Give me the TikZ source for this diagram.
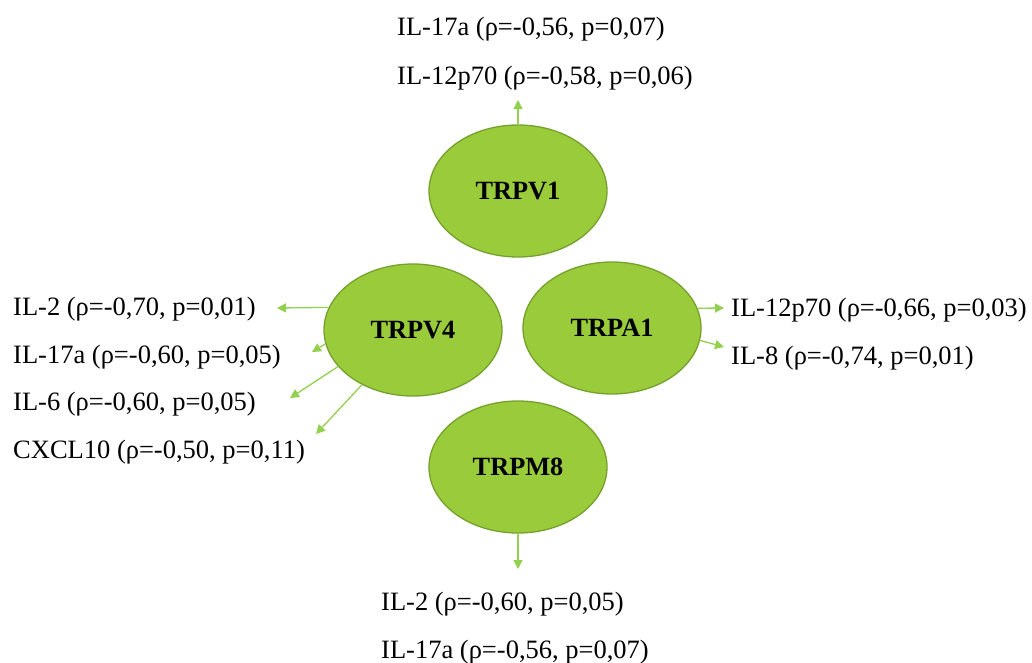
\documentclass[tikz,border=0pt]{standalone}
\usepackage{fontspec}
\setmainfont{Liberation Serif}
\usetikzlibrary{shapes.geometric,arrows.meta}
\definecolor{chfill}{RGB}{154,203,59}
\definecolor{chline}{RGB}{118,160,44}
\definecolor{arr}{RGB}{146,208,80}
\tikzset{
  chan/.style={ellipse, fill=chfill, draw=chline, line width=1.3pt, minimum width=178pt, minimum height=132pt, inner sep=0pt, font=\fontsize{26.3}{30}\selectfont\bfseries},
  lab/.style={anchor=base west, inner sep=0pt, font=\fontsize{26.5}{30}\selectfont},
  conn/.style={draw=arr, line width=1.3pt, -{Triangle[length=9pt,width=9pt]}}
}
\begin{document}
\begin{tikzpicture}[x=1pt,y=-1pt]
\useasboundingbox (0,0) rectangle (1032,662);
\node[chan] (v1) at (518,191) {TRPV1};
\node[chan] (v4) at (413,330) {TRPV4};
\node[chan] (a1) at (612,328) {TRPA1};
\node[chan] (m8) at (518,467) {TRPM8};
% top labels
\node[lab] (t1) at (397,35) {IL-17a (ρ=-0,56, p=0,07)};
\node[lab] (t2) at (397,84) {IL-12p70 (ρ=-0,58, p=0,06)};
% left labels
\node[lab] (l1) at (13,315) {IL-2 (ρ=-0,70, p=0,01)};
\node[lab] (l2) at (13,363) {IL-17a (ρ=-0,60, p=0,05)};
\node[lab] (l3) at (13,410) {IL-6 (ρ=-0,60, p=0,05)};
\node[lab] (l4) at (13,458) {CXCL10 (ρ=-0,50, p=0,11)};
% right labels
\node[lab] (r1) at (731,316) {IL-12p70 (ρ=-0,66, p=0,03)};
\node[lab] (r2) at (731,364) {IL-8 (ρ=-0,74, p=0,01)};
% bottom labels
\node[lab] (b1) at (381,610) {IL-2 (ρ=-0,60, p=0,05)};
\node[lab] (b2) at (381,658) {IL-17a (ρ=-0,56, p=0,07)};
% arrow end points
\coordinate (ct) at (518,100);
\coordinate (cb) at (518,569);
\coordinate (cl1) at (277,308);
\coordinate (cl2) at (312,352);
\coordinate (cl3) at (290,398);
\coordinate (cl4) at (316,434);
\coordinate (cr1) at (724,308);
\coordinate (cr2) at (724,347);
\draw[conn] (v1.north) -- (ct);
\draw[conn] (m8.south) -- (cb);
\draw[conn] (v4.165.5) -- (cl1);
\draw[conn] (v4.189) -- (cl2);
\draw[conn] (v4.206.9) -- (cl3);
\draw[conn] (v4.227.2) -- (cl4);
\draw[conn] (a1.13.2) -- (cr1);
\draw[conn] (a1.-8.5) -- (cr2);
\end{tikzpicture}
\end{document}
